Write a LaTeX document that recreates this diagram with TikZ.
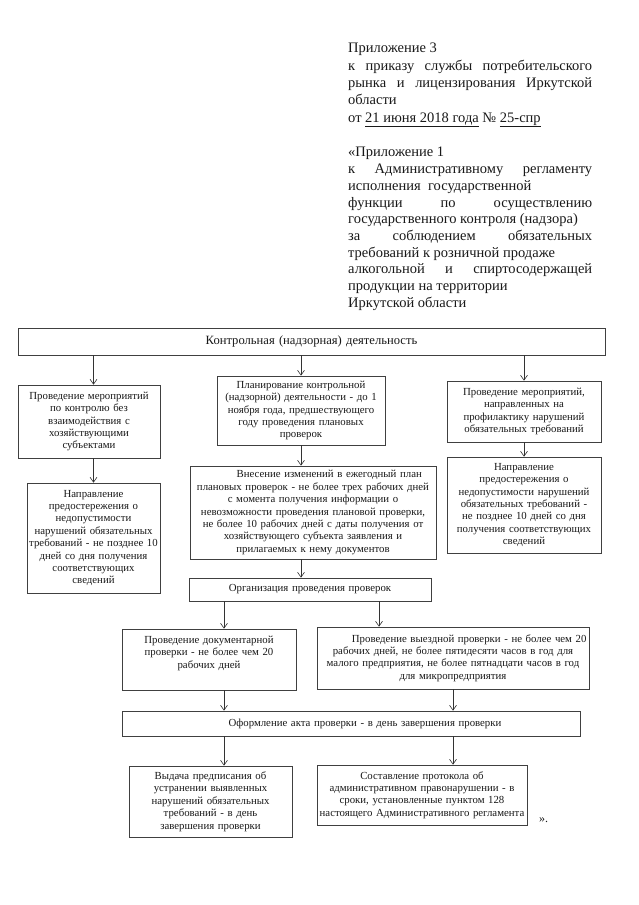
\documentclass[tikz,border=0pt]{standalone}
\usepackage{fontspec}
\setmainfont{Liberation Serif}
\usetikzlibrary{arrows.meta}
\newcommand{\hdrfont}{\fontsize{14.5}{16.8}\selectfont}
\newcommand{\boxfont}{\fontsize{10.8}{12.4}\selectfont}
\newcommand{\topfont}{\fontsize{12.6}{14}\selectfont}
\newcommand{\js}[1]{\makebox[244pt][s]{#1}}
\begin{document}
\begin{tikzpicture}[x=1pt,y=-1pt,
  box/.style={draw=black!75, line width=0.6pt, inner sep=0pt, align=center, font=\boxfont, text=black!90},
  btext/.style={inner sep=0pt, align=center, font=\boxfont, text=black!90},
  arr/.style={draw=black!80, line width=0.6pt, -{Straight Barb[length=5pt,width=7pt]}},
  hl/.style={anchor=base west, inner sep=0pt, font=\hdrfont, text=black!90}]
\useasboundingbox (0,0) rectangle (639,905);
\fill[white] (0,0) rectangle (639,905);

% header
\node[hl] (h1) at (348,52) {Приложение 3};
\node[hl] (h2) at (348,70) {\js{к приказу службы потребительского}};
\node[hl] (h3) at (348,87) {\js{рынка и лицензирования Иркутской}};
\node[hl] (h4) at (348,104) {области};
\node[hl] (h5) at (348,122) {от \underline{21 июня 2018 года} № \underline{25-спр}};
\node[hl] (h6) at (348,156) {«Приложение 1};
\node[hl] (h7) at (348,173) {\js{к Административному регламенту}};
\node[hl] (h8) at (348,190) {исполнения\ \ государственной};
\node[hl] (h9) at (348,207) {\js{функции по осуществлению}};
\node[hl] (h10) at (348,223) {государственного контроля (надзора)};
\node[hl] (h11) at (348,240) {\js{за соблюдением обязательных}};
\node[hl] (h12) at (348,257) {требований к розничной продаже};
\node[hl] (h13) at (348,273) {\js{алкогольной и спиртосодержащей}};
\node[hl] (h14) at (348,290) {продукции на территории};
\node[hl] (h15) at (348,307) {Иркутской области};

% boxes
\node[box, font=\topfont, minimum width=587, minimum height=27, text width=580] (top) at (311.5,341.5) {Контрольная (надзорная) деятельность};

\node[box, minimum width=142, minimum height=73, text width=138] (L1) at (89,421.5) {Проведение мероприятий\\по контролю без\\взаимодействия с\\хозяйствующими\\субъектами};
\node[box, minimum width=168, minimum height=69, text width=164] (M1) at (301,410.5) {Планирование контрольной\\(надзорной) деятельности - до 1\\ноября года, предшествующего\\году проведения плановых\\проверок};
\node[box, minimum width=154, minimum height=61, text width=150] (R1) at (524,411.5) {Проведение мероприятий,\\направленных на\\профилактику нарушений\\обязательных требований};

\node[box, minimum width=133, minimum height=110, text width=129] (L2) at (93.5,538) {Направление\\предостережения о\\недопустимости\\нарушений обязательных\\требований - не позднее 10\\дней со дня получения\\соответствующих\\сведений};
\node[box, minimum width=246, minimum height=93, text width=242] (M2) at (313,512.5) {\hspace*{3em}Внесение изменений в ежегодный план\\плановых проверок - не более трех рабочих дней\\с момента получения информации о\\невозможности проведения плановой проверки,\\не более 10 рабочих дней с даты получения от\\хозяйствующего субъекта заявления и\\прилагаемых к нему документов};
\node[box, minimum width=154, minimum height=96, text width=150] (R2) at (524,505) {Направление\\предостережения о\\недопустимости нарушений\\обязательных требований -\\не позднее 10 дней со дня\\получения соответствующих\\сведений};

\node[box, minimum width=242, minimum height=23, text width=238] (Org) at (310,589.5) {Организация проведения проверок};

\node[box, minimum width=174, minimum height=61] (D) at (209,659.5) {};
\node[btext, anchor=north, text width=170, yshift=-7pt] (Dt) at (D.north) {Проведение документарной\\проверки - не более чем 20\\рабочих дней};
\node[box, minimum width=272, minimum height=62, text width=268] (F) at (453,658) {\hspace*{3em}Проведение выездной проверки - не более чем 20\\рабочих дней, не более пятидесяти часов в год для\\малого предприятия, не более пятнадцати часов в год\\для микропредприятия};

\node[box, minimum width=458, minimum height=25, text width=454] (Act) at (351,723.5) {\hspace*{28pt}Оформление акта проверки - в день завершения проверки};

\node[box, minimum width=163, minimum height=71, text width=159] (V) at (210.5,801.5) {Выдача предписания об\\устранении выявленных\\нарушений обязательных\\требований - в день\\завершения проверки};
\node[box, minimum width=210, minimum height=60, text width=206] (S) at (422,795) {Составление протокола об\\административном правонарушении - в\\сроки, установленные пунктом 128\\настоящего Административного регламента};
\node[anchor=base west, inner sep=0pt, font=\fontsize{12}{14}\selectfont, text=black!90] (q) at (539,822) {».};

% arrow x positions
\coordinate (xa) at (224,0);
\coordinate (xb) at (379,0);

% connectors
\draw[arr] (top.south -| L2) -- (L1.north -| L2);
\draw[arr] (L1.south -| L2) -- (L2.north);
\draw[arr] (top.south -| M1) -- (M1.north);
\draw[arr] (M1.south) -- (M1.south |- M2.north);
\draw[arr] (M2.south -| M1) -- (Org.north -| M1);
\draw[arr] (top.south -| R1) -- (R1.north);
\draw[arr] (R1.south) -- (R2.north);
\draw[arr] (Org.south -| xa) -- (D.north -| xa);
\draw[arr] (Org.south -| xb) -- (F.north -| xb);
\draw[arr] (D.south -| xa) -- (Act.north -| xa);
\draw[arr] (F.south) -- (Act.north -| F);
\draw[arr] (Act.south -| xa) -- (V.north -| xa);
\draw[arr] (Act.south -| F) -- (S.north -| F);
\end{tikzpicture}
\end{document}
